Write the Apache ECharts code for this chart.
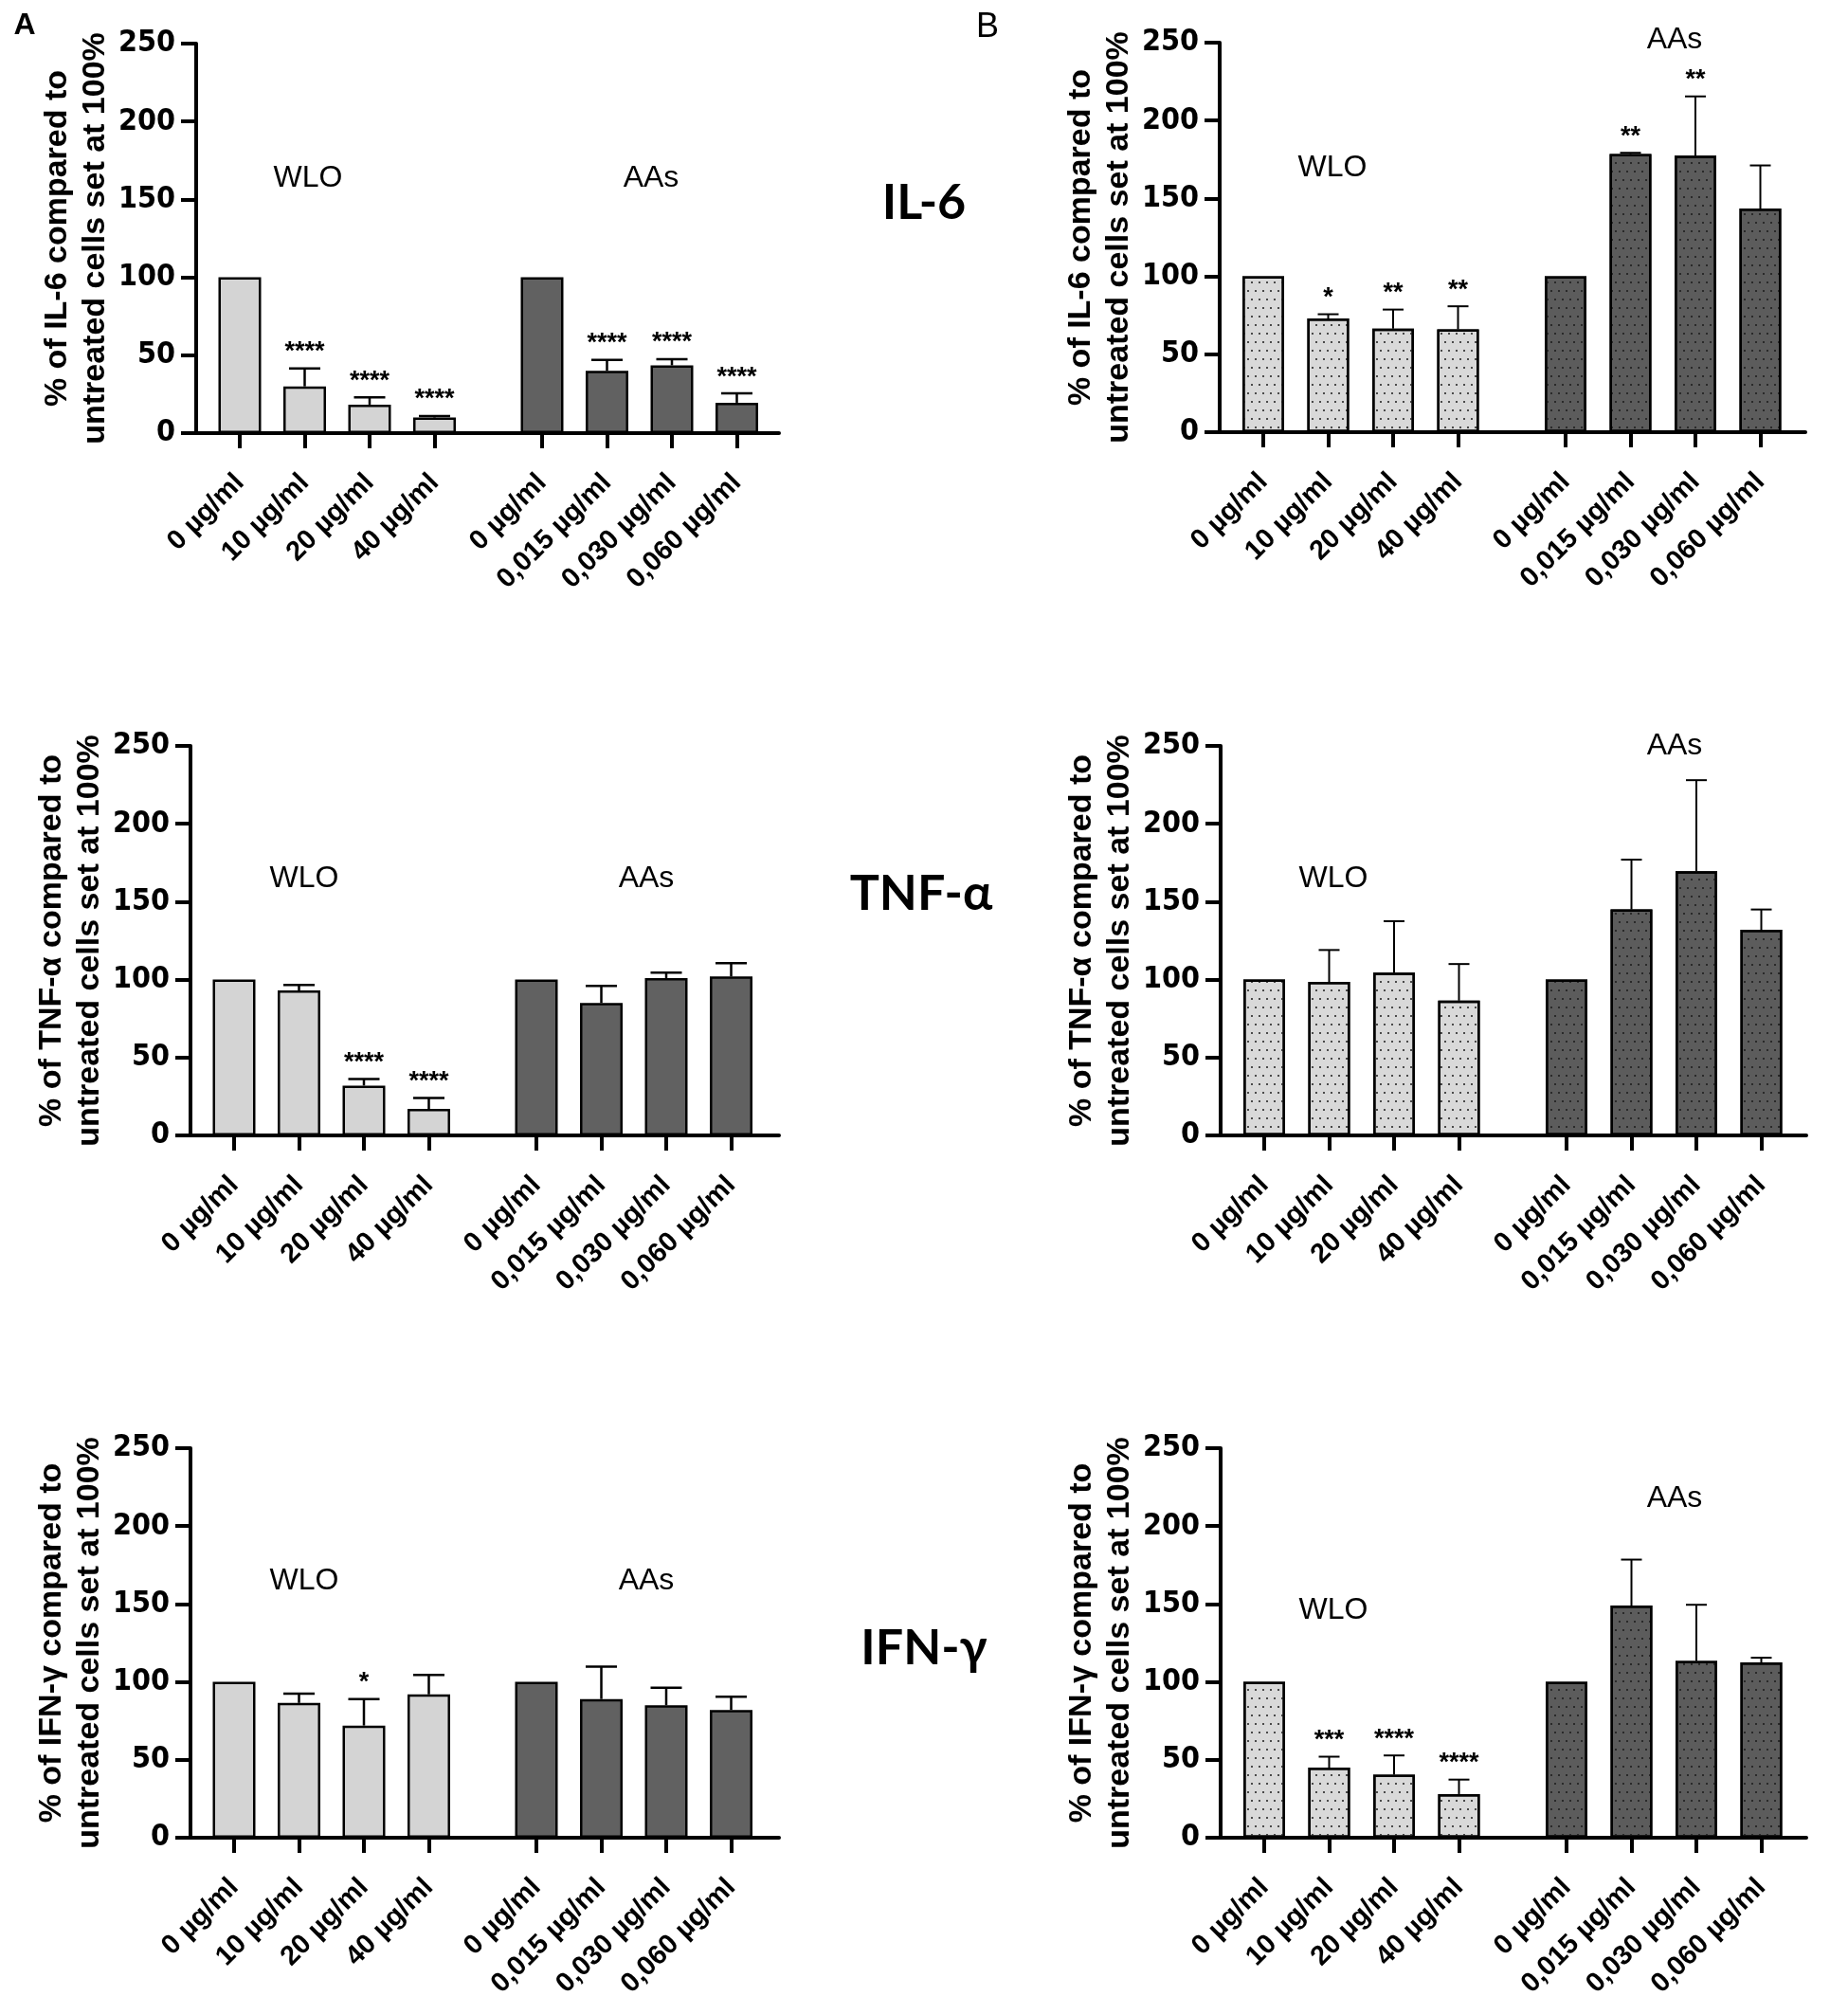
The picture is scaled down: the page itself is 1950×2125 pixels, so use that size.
<!DOCTYPE html>
<html>
<head>
<meta charset="utf-8">
<script src="https://cdn.jsdelivr.net/npm/echarts@6/dist/echarts.min.js"></script>
<style>
  html, body { margin: 0; padding: 0; background: #fff; }
  #chart { width: 1950px; height: 2125px; }
</style>
</head>
<body>
<div id="chart"></div>
<script>
// ---------------- DATA ----------------
const CAT_WLO = ['0 µg/ml', '10 µg/ml', '20 µg/ml', '40 µg/ml'];
const CAT_AAS = ['0 µg/ml', '0,015 µg/ml', '0,030 µg/ml', '0,060 µg/ml'];
const Y_TICKS = [0, 50, 100, 150, 200, 250];

// Panel A (plain bars)
const IL6_A_WLO_MEAN = [100, 30, 18.3, 10];
const IL6_A_WLO_SD = [0, 11.5, 4.7, 1];
const IL6_A_WLO_STARS = ['', '****', '****', '****'];
const IL6_A_AAS_MEAN = [100, 40, 43.5, 19.5];
const IL6_A_AAS_SD = [0, 7, 4, 6];
const IL6_A_AAS_STARS = ['', '****', '****', '****'];

const TNF_A_WLO_MEAN = [100, 93, 32, 17];
const TNF_A_WLO_SD = [0, 3.6, 4.2, 7];
const TNF_A_WLO_STARS = ['', '', '****', '****'];
const TNF_A_AAS_MEAN = [100, 85, 101, 102];
const TNF_A_AAS_SD = [0, 11, 3.5, 8.5];
const TNF_A_AAS_STARS = ['', '', '', ''];

const IFN_A_WLO_MEAN = [100, 86.5, 72, 92];
const IFN_A_WLO_SD = [0, 6, 17, 12.5];
const IFN_A_WLO_STARS = ['', '', '*', ''];
const IFN_A_AAS_MEAN = [100, 89, 85, 82];
const IFN_A_AAS_SD = [0, 20.8, 11.2, 8.5];
const IFN_A_AAS_STARS = ['', '', '', ''];

// Panel B (dotted bars)
const IL6_B_WLO_MEAN = [100, 73, 66.5, 66];
const IL6_B_WLO_SD = [0, 2.7, 12.2, 14.8];
const IL6_B_WLO_STARS = ['', '*', '**', '**'];
const IL6_B_AAS_MEAN = [100, 178.5, 177.5, 143.5];
const IL6_B_AAS_SD = [0, 0.8, 38, 27.7];
const IL6_B_AAS_STARS = ['', '**', '**', ''];

const TNF_B_WLO_MEAN = [100, 98.5, 104.5, 86.5];
const TNF_B_WLO_SD = [0, 20.5, 33, 23.5];
const TNF_B_WLO_STARS = ['', '', '', ''];
const TNF_B_AAS_MEAN = [100, 145, 169.5, 132];
const TNF_B_AAS_SD = [0, 32, 58.5, 13];
const TNF_B_AAS_STARS = ['', '', '', ''];

const IFN_B_WLO_MEAN = [100, 45, 40.5, 28];
const IFN_B_WLO_SD = [0, 7, 12.3, 9.3];
const IFN_B_WLO_STARS = ['', '***', '****', '****'];
const IFN_B_AAS_MEAN = [100, 149, 113.5, 112.5];
const IFN_B_AAS_SD = [0, 29.5, 36, 3];
const IFN_B_AAS_STARS = ['', '', '', ''];

// ---------------- STYLE / LAYOUT ----------------
const NARROW = "'Liberation Sans Narrow', 'Arial Narrow', 'DejaVu Sans Condensed', sans-serif";
const SANS = "'Liberation Sans', Arial, sans-serif";
const LABEL_FONT = "Lato, 'Liberation Sans', sans-serif";
const BAND = 68.5, FIRST_OFF = 46, GAP_EXTRA = 45;

const panels = [
  { frameLeft: 207, frameRight: 822, top: 46, yName: '% of IL-6 compared to\nuntreated cells set at 100%',
    wlo: [IL6_A_WLO_MEAN, IL6_A_WLO_SD, IL6_A_WLO_STARS], aas: [IL6_A_AAS_MEAN, IL6_A_AAS_SD, IL6_A_AAS_STARS], dotted: false },
  { frameLeft: 201, frameRight: 822, top: 787, yName: '% of TNF-α compared to\nuntreated cells set at 100%',
    wlo: [TNF_A_WLO_MEAN, TNF_A_WLO_SD, TNF_A_WLO_STARS], aas: [TNF_A_AAS_MEAN, TNF_A_AAS_SD, TNF_A_AAS_STARS], dotted: false },
  { frameLeft: 201, frameRight: 822, top: 1528, yName: '% of IFN-γ compared to\nuntreated cells set at 100%',
    wlo: [IFN_A_WLO_MEAN, IFN_A_WLO_SD, IFN_A_WLO_STARS], aas: [IFN_A_AAS_MEAN, IFN_A_AAS_SD, IFN_A_AAS_STARS], dotted: false },
  { frameLeft: 1287, frameRight: 1905, top: 45, yName: '% of IL-6 compared to\nuntreated cells set at 100%',
    wlo: [IL6_B_WLO_MEAN, IL6_B_WLO_SD, IL6_B_WLO_STARS], aas: [IL6_B_AAS_MEAN, IL6_B_AAS_SD, IL6_B_AAS_STARS], dotted: true },
  { frameLeft: 1288, frameRight: 1906, top: 787, yName: '% of TNF-α compared to\nuntreated cells set at 100%',
    wlo: [TNF_B_WLO_MEAN, TNF_B_WLO_SD, TNF_B_WLO_STARS], aas: [TNF_B_AAS_MEAN, TNF_B_AAS_SD, TNF_B_AAS_STARS], dotted: true },
  { frameLeft: 1288, frameRight: 1906, top: 1528, yName: '% of IFN-γ compared to\nuntreated cells set at 100%',
    wlo: [IFN_B_WLO_MEAN, IFN_B_WLO_SD, IFN_B_WLO_STARS], aas: [IFN_B_AAS_MEAN, IFN_B_AAS_SD, IFN_B_AAS_STARS], dotted: true }
];
const PLOT_H = 411;

const grids = [], xAxes = [], yAxes = [], series = [];

function errRenderer(stars, capW, lw) {
  return function (params, api) {
    const i = api.value(0), m = api.value(1), s = api.value(2);
    const base = api.coord([i, m]);
    const top = api.coord([i, m + s]);
    const children = [];
    if (s > 0) {
      children.push({ type: 'line', shape: { x1: base[0], y1: base[1], x2: top[0], y2: top[1] },
        style: { stroke: '#000', lineWidth: lw } });
      children.push({ type: 'line', shape: { x1: top[0] - capW / 2, y1: top[1], x2: top[0] + capW / 2, y2: top[1] },
        style: { stroke: '#000', lineWidth: lw } });
    }
    const star = stars[params.dataIndex];
    if (star) {
      children.push({ type: 'text', x: top[0], y: top[1] - 17,
        style: { text: star, fontSize: 27, fontWeight: 'bold', fontFamily: SANS, fill: '#000',
                 align: 'center', verticalAlign: 'middle' } });
    }
    return { type: 'group', children };
  };
}

panels.forEach(function (p) {
  const gi = grids.length;
  // frame grid: y axis + continuous x axis line
  grids.push({ left: p.frameLeft, top: p.top, width: p.frameRight - p.frameLeft, height: PLOT_H,
    containLabel: false, outerBoundsMode: 'none' });
  xAxes.push({ gridIndex: gi, type: 'value', min: 0, max: 1, axisLine: { show: true, lineStyle: { color: '#000', width: 4 } },
    axisTick: { show: false }, axisLabel: { show: false }, splitLine: { show: false } });
  yAxes.push({ gridIndex: gi, type: 'value', min: Y_TICKS[0], max: Y_TICKS[Y_TICKS.length - 1], interval: Y_TICKS[1] - Y_TICKS[0],
    axisLine: { show: true, lineStyle: { color: '#000', width: 4 } },
    axisTick: { show: true, length: 16, lineStyle: { color: '#000', width: 4 } },
    axisLabel: { margin: 22, fontSize: 32, fontWeight: 'bold', fontFamily: NARROW, color: '#000' },
    splitLine: { show: false },
    name: p.yName, nameLocation: 'middle', nameRotate: 90, nameGap: 84,
    nameTextStyle: { fontSize: 34, fontWeight: 'bold', fontFamily: SANS, color: '#000', lineHeight: 40 } });

  const wloLeft = p.frameLeft + FIRST_OFF - BAND / 2;
  const aasLeft = wloLeft + 4 * BAND + GAP_EXTRA;
  const groups = [
    { left: wloLeft, cats: CAT_WLO, d: p.wlo, color: p.dotted ? '#d9d9d9' : '#d4d4d4', dot: '#4a4a4a' },
    { left: aasLeft, cats: CAT_AAS, d: p.aas, color: p.dotted ? '#5c5c5c' : '#616161', dot: '#2a2a2a' }
  ];
  groups.forEach(function (g) {
    const k = grids.length;
    grids.push({ left: g.left, top: p.top, width: 4 * BAND, height: PLOT_H,
      containLabel: false, outerBoundsMode: 'none' });
    xAxes.push({ gridIndex: k, type: 'category', data: g.cats, boundaryGap: true,
      axisLine: { show: false },
      axisTick: { show: true, alignWithLabel: true, length: 16, lineStyle: { color: '#000', width: 4 } },
      axisLabel: { interval: 0, rotate: 45, margin: 48, fontSize: 29, fontWeight: 'bold', fontFamily: SANS, color: '#000' },
      splitLine: { show: false } });
    yAxes.push({ gridIndex: k, type: 'value', min: 0, max: 250, show: false });
    const itemStyle = { color: g.color, borderColor: '#000', borderWidth: 2.5 };
    if (p.dotted) {
      itemStyle.decal = { symbol: 'rect', symbolSize: 1, color: g.dot,
        dashArrayX: [[2, 6], [0, 4, 2, 2]], dashArrayY: [2, 6.3] };
    }
    series.push({ type: 'bar', xAxisIndex: k, yAxisIndex: k, data: g.d[0], barWidth: p.dotted ? 44 : 45,
      itemStyle: itemStyle, emphasis: { disabled: true }, z: 2 });
    series.push({ type: 'custom', xAxisIndex: k, yAxisIndex: k,
      data: g.d[0].map(function (m, i) { return [i, m, g.d[1][i]]; }),
      renderItem: errRenderer(g.d[2], p.dotted ? 22 : 33, p.dotted ? 2 : 2.5), z: 3 });
  });
});

function txt(x, y, text, size, weight, family) {
  return { type: 'text', x: x, y: y, style: { text: text, fontSize: size, fontWeight: weight, fontFamily: family,
    fill: '#000', align: 'center', verticalAlign: 'middle' } };
}

const graphics = [
  txt(26, 27, 'A', 32, 'bold', SANS),
  txt(1042, 29, 'B', 36, 'normal', SANS),
  txt(975, 214, 'IL-6', 52, 'bold', LABEL_FONT),
  txt(972, 943, 'TNF-α', 52, 'bold', LABEL_FONT),
  txt(975, 1739, 'IFN-γ', 52, 'bold', LABEL_FONT),
  txt(325, 188, 'WLO', 32, 'normal', SANS),
  txt(687, 188, 'AAs', 32, 'normal', SANS),
  txt(321, 927, 'WLO', 32, 'normal', SANS),
  txt(682, 927, 'AAs', 32, 'normal', SANS),
  txt(321, 1668, 'WLO', 32, 'normal', SANS),
  txt(682, 1668, 'AAs', 32, 'normal', SANS),
  txt(1406, 177, 'WLO', 32, 'normal', SANS),
  txt(1767, 42, 'AAs', 32, 'normal', SANS),
  txt(1407, 927, 'WLO', 32, 'normal', SANS),
  txt(1767, 787, 'AAs', 32, 'normal', SANS),
  txt(1407, 1699, 'WLO', 32, 'normal', SANS),
  txt(1767, 1581, 'AAs', 32, 'normal', SANS)
];

const chart = echarts.init(document.getElementById('chart'), null, { renderer: 'canvas' });
chart.setOption({
  backgroundColor: '#ffffff',
  animation: false,
  grid: grids,
  xAxis: xAxes,
  yAxis: yAxes,
  series: series,
  graphic: graphics
});
</script>
</body>
</html>
